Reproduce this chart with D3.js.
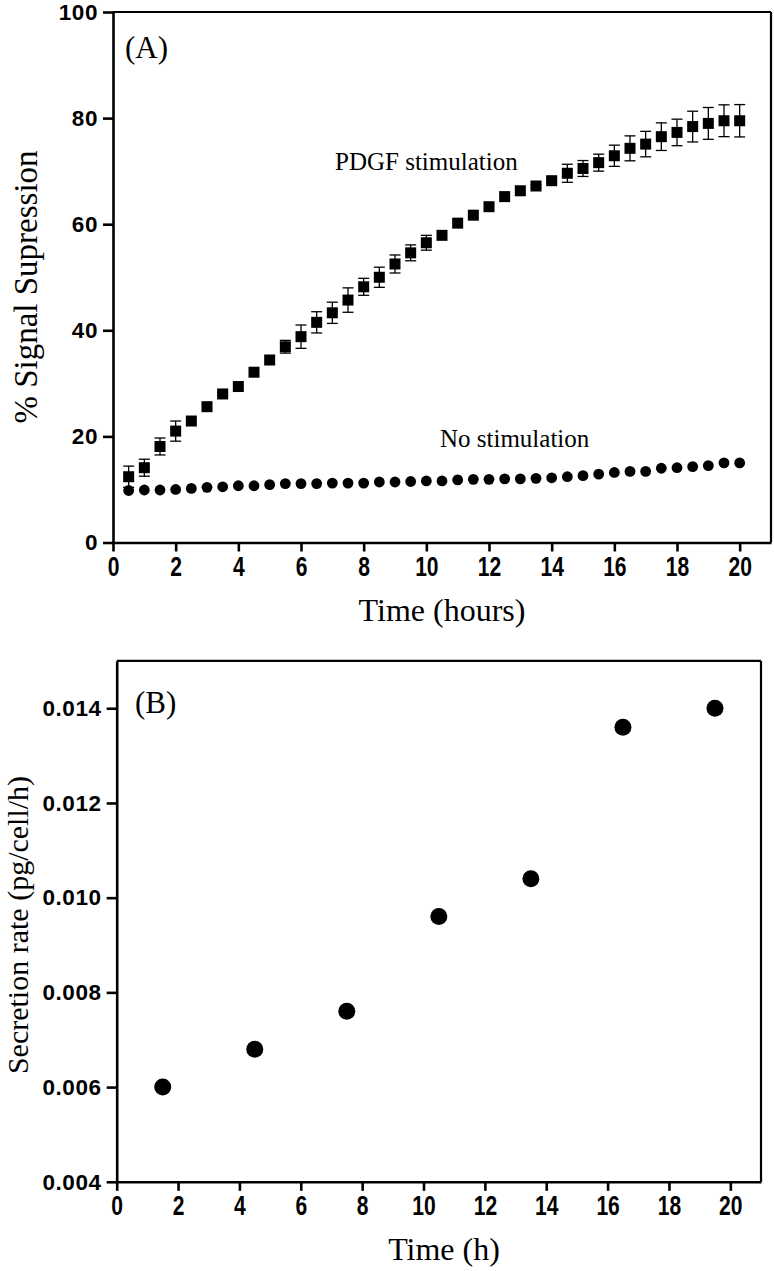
<!DOCTYPE html>
<html>
<head>
<meta charset="utf-8">
<script src="https://cdn.jsdelivr.net/npm/d3@7"></script>
<style>
  html, body { margin: 0; padding: 0; background: #fff; }
  svg { display: block; }
</style>
</head>
<body>
<svg id="chart" width="774" height="1271"></svg>
<script>
// ---------- Data ----------
const timeA = [0.5,1,1.5,2,2.5,3,3.5,4,4.5,5,5.5,6,6.5,7,7.5,8,8.5,9,9.5,10,
               10.5,11,11.5,12,12.5,13,13.5,14,14.5,15,15.5,16,16.5,17,17.5,18,18.5,19,19.5,20];
const pdgf = [12.4,14.1,18.1,21.0,22.9,25.6,28.0,29.4,32.1,34.4,36.9,38.8,41.5,43.3,45.7,48.2,50.0,52.5,54.6,56.5,
              57.9,60.2,61.7,63.3,65.2,66.3,67.2,68.2,69.6,70.5,71.6,72.9,74.3,75.1,76.5,77.3,78.4,79.0,79.5,79.5];
const pdgfErr = [2.0,1.6,1.6,1.9,0,0,0.3,0,0,0,1.2,2.2,2.0,2.0,2.3,1.6,1.9,1.7,1.5,1.4,
                 0,0,0,0,0,0,0.3,0.3,1.7,1.5,1.6,2.0,2.35,2.4,2.6,2.5,2.9,3.0,3.0,3.05];
const noStim = [9.8,9.9,9.9,10.0,10.2,10.4,10.5,10.7,10.7,10.9,11.1,11.1,11.1,11.2,11.2,11.2,11.4,11.4,11.5,11.6,
                11.6,11.8,11.9,11.9,12.0,12.0,12.1,12.2,12.4,12.6,12.9,13.2,13.4,13.4,14.0,14.1,14.3,14.5,15.0,15.0];
const xTicksA = [0,2,4,6,8,10,12,14,16,18,20];
const yTicksA = [0,20,40,60,80,100];

const timeB = [1.5,4.5,7.5,10.5,13.5,16.5,19.5];
const secretion = [0.0060,0.0068,0.0076,0.0096,0.0104,0.0136,0.0140];
const xTicksB = [0,2,4,6,8,10,12,14,16,18,20];
const yTicksB = [0.004,0.006,0.008,0.010,0.012,0.014];

// ---------- Setup ----------
const svg = d3.select("#chart");
const serif = "'Liberation Serif','Times New Roman',serif";
const sans = "'Liberation Sans',Arial,sans-serif";

function styleAxis(g, isX) {
  g.select(".domain").attr("stroke", "#000").attr("stroke-width", 2.6);
  g.selectAll(".tick line").attr("stroke", "#000").attr("stroke-width", 2.6);
  const t = g.selectAll(".tick text")
    .attr("fill", "#000")
    .attr("font-family", sans)
    .attr("font-weight", "bold");
  if (isX) {
    t.attr("font-size", 27).attr("transform", "scale(0.78,1)");
  } else {
    t.attr("font-size", 22.5).attr("letter-spacing", 0.6);
  }
}

function panel(cfg) {
  const g = svg.append("g");
  const x = d3.scaleLinear().domain(cfg.xDomain).range(cfg.xRange);
  const y = d3.scaleLinear().domain(cfg.yDomain).range(cfg.yRange);
  // frame top/right
  g.append("line").attr("x1", cfg.xRange[0]).attr("x2", cfg.xRange[1])
    .attr("y1", cfg.yRange[1]).attr("y2", cfg.yRange[1])
    .attr("stroke", "#000").attr("stroke-width", 2.2);
  g.append("line").attr("x1", cfg.xRange[1]).attr("x2", cfg.xRange[1])
    .attr("y1", cfg.yRange[1]).attr("y2", cfg.yRange[0])
    .attr("stroke", "#000").attr("stroke-width", 2.2);
  const xa = g.append("g").attr("transform", `translate(0,${cfg.yRange[0]})`)
    .call(d3.axisBottom(x).tickValues(cfg.xTicks).tickSize(9).tickPadding(5).tickSizeOuter(0).tickFormat(d3.format("d")));
  styleAxis(xa, true);
  const ya = g.append("g").attr("transform", `translate(${cfg.xRange[0]},0)`)
    .call(d3.axisLeft(y).tickValues(cfg.yTicks).tickSize(10).tickPadding(5).tickSizeOuter(0).tickFormat(cfg.yFormat));
  styleAxis(ya, false);
  return {g, x, y};
}

// ---------- Panel A ----------
const A = panel({
  xDomain: [0, 21], xRange: [113, 771],
  yDomain: [0, 100], yRange: [542.5, 12],
  xTicks: xTicksA, yTicks: yTicksA, yFormat: d3.format("d")
});
const dataA = timeA.map((t, i) => ({t, p: pdgf[i], e: pdgfErr[i], n: noStim[i]}));
// error bars
const eb = A.g.append("g").selectAll("g").data(dataA.filter(d => d.e > 0)).join("g");
eb.append("line").attr("x1", d => A.x(d.t)).attr("x2", d => A.x(d.t))
  .attr("y1", d => A.y(d.p + d.e)).attr("y2", d => A.y(d.p - d.e))
  .attr("stroke", "#000").attr("stroke-width", 1.3);
[1, -1].forEach(s => {
  eb.append("line").attr("x1", d => A.x(d.t) - 5.5).attr("x2", d => A.x(d.t) + 5.5)
    .attr("y1", d => A.y(d.p + s * d.e)).attr("y2", d => A.y(d.p + s * d.e))
    .attr("stroke", "#000").attr("stroke-width", 1.3);
});
// squares
const sq = 11;
A.g.append("g").selectAll("rect").data(dataA).join("rect")
  .attr("x", d => A.x(d.t) - sq / 2).attr("y", d => A.y(d.p) - sq / 2)
  .attr("width", sq).attr("height", sq).attr("fill", "#000");
// circles
A.g.append("g").selectAll("circle").data(dataA).join("circle")
  .attr("cx", d => A.x(d.t)).attr("cy", d => A.y(d.n)).attr("r", 5.4).attr("fill", "#000");

A.g.append("text").attr("x", 125).attr("y", 58).attr("font-family", serif).attr("font-size", 31).text("(A)");
A.g.append("text").attr("x", 335).attr("y", 170).attr("font-family", serif).attr("font-size", 25).text("PDGF stimulation");
A.g.append("text").attr("x", 440).attr("y", 447).attr("font-family", serif).attr("font-size", 25).text("No stimulation");
A.g.append("text").attr("text-anchor", "middle").attr("font-family", serif).attr("font-size", 33)
  .attr("transform", "translate(37,287) rotate(-90)").text("% Signal Supression");
A.g.append("text").attr("text-anchor", "middle").attr("font-family", serif).attr("font-size", 32)
  .attr("x", 442).attr("y", 621).text("Time (hours)");

// ---------- Panel B ----------
const B = panel({
  xDomain: [0, 21], xRange: [116.7, 761],
  yDomain: [0.004, 0.015], yRange: [1181.8, 660.9],
  xTicks: xTicksB, yTicks: yTicksB, yFormat: d3.format(".3f")
});
B.g.append("g").selectAll("circle").data(timeB.map((t, i) => ({t, v: secretion[i]}))).join("circle")
  .attr("cx", d => B.x(d.t)).attr("cy", d => B.y(d.v)).attr("r", 8.5).attr("fill", "#000");
B.g.append("text").attr("x", 135).attr("y", 713).attr("font-family", serif).attr("font-size", 31).text("(B)");
B.g.append("text").attr("text-anchor", "middle").attr("font-family", serif).attr("font-size", 30)
  .attr("transform", "translate(28,925) rotate(-90)").text("Secretion rate (pg/cell/h)");
B.g.append("text").attr("text-anchor", "middle").attr("font-family", serif).attr("font-size", 32)
  .attr("x", 444).attr("y", 1260).text("Time (h)");
</script>
</body>
</html>
